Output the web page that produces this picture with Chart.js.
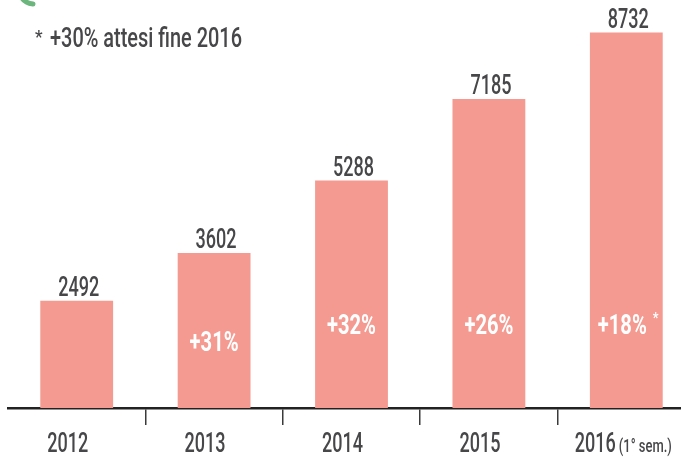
<!DOCTYPE html>
<html>
<head>
<meta charset="utf-8">
<script src="https://cdn.jsdelivr.net/npm/chart.js@4.4.1/dist/chart.umd.min.js"></script>
<style>
  html, body { margin: 0; padding: 0; background: #ffffff; overflow: hidden; }
  #wrap { position: relative; width: 681px; height: 457px; overflow: hidden; }
  canvas { display: block; }
</style>
</head>
<body>
<div id="wrap"><canvas id="chart" width="700" height="457"></canvas></div>
<script>
// Yearly totals (2016 covers the first half only)
const years = ['2012', '2013', '2014', '2015', '2016'];
const yearNotes = ['', '', '', '', '(1° sem.)'];
const totals = [2492, 3602, 5288, 7185, 8732];
const growth = ['', '+31%', '+32%', '+26%', '+18%'];
const growthMarks = ['', '', '', '', '*'];
const footnoteMark = '*';
const footnote = '+30% attesi fine 2016';

const FONT = 'Roboto, "DejaVu Sans", sans-serif';
const TEXT_COLOR = '#47474a';
const BAR_COLOR = '#f49a90';

// value on the y scale where each growth label's baseline sits
const growthAnchor = [0, 1330, 1720, 1720, 1720];

function fontStr(size, weight) { return weight + ' ' + size + 'px ' + FONT; }

function measure(ctx, text, size, weight) {
  ctx.save();
  ctx.font = fontStr(size, weight);
  const w = ctx.measureText(text).width;
  ctx.restore();
  return w;
}

// draws text squeezed horizontally by sx, for a tall condensed face
function narrowText(ctx, text, x, y, size, weight, color, align, sx) {
  const w = measure(ctx, text, size, weight) * sx;
  let x0 = x;
  if (align === 'center') x0 = x - w / 2;
  else if (align === 'right') x0 = x - w;
  ctx.save();
  ctx.font = fontStr(size, weight);
  ctx.fillStyle = color;
  ctx.textAlign = 'left';
  ctx.textBaseline = 'alphabetic';
  ctx.translate(x0, y);
  ctx.scale(sx, 1);
  ctx.fillText(text, 0, 0);
  ctx.restore();
  return w;
}

const labelsPlugin = {
  id: 'labels',
  afterDatasetsDraw(chart) {
    const ctx = chart.ctx;
    const ys = chart.scales.y;
    const meta = chart.getDatasetMeta(0);

    const numSize = 28, numWeight = '500';
    const numSx = 41 / measure(ctx, '2492', numSize, numWeight);
    const pctSize = 27, pctWeight = '700';
    const pctSx = 49 / measure(ctx, '+26%', pctSize, pctWeight);
    const noteSize = 19;
    const noteSx = 53 / measure(ctx, '(1° sem.)', noteSize, '500');

    meta.data.forEach((bar, i) => {
      const cx = bar.x;
      // value above the bar
      narrowText(ctx, String(totals[i]), cx + 2, bar.y - 5, numSize, numWeight, TEXT_COLOR, 'center', numSx);
      // growth inside the bar
      if (growth[i]) {
        const gy = ys.getPixelForValue(growthAnchor[i]);
        const shift = growthMarks[i] ? -4 : 0;
        const w = narrowText(ctx, growth[i], cx + shift, gy, pctSize, pctWeight, '#ffffff', 'center', pctSx);
        if (growthMarks[i]) {
          narrowText(ctx, growthMarks[i], cx + shift + w / 2 + 6, gy - 11, 14, '700', '#ffffff', 'left', 0.9);
        }
      }
      // category label below the axis, set a little left of the bar
      const ly = 452;
      if (yearNotes[i]) {
        const wy = measure(ctx, years[i], numSize, numWeight) * numSx;
        const wn = measure(ctx, yearNotes[i], noteSize, '500') * noteSx;
        const gap = 3;
        const x0 = cx - 3 - (wy + gap + wn) / 2;
        narrowText(ctx, years[i], x0, ly, numSize, numWeight, TEXT_COLOR, 'left', numSx);
        narrowText(ctx, yearNotes[i], x0 + wy + gap, ly, noteSize, '500', TEXT_COLOR, 'left', noteSx);
      } else {
        narrowText(ctx, years[i], cx - 9, ly, numSize, numWeight, TEXT_COLOR, 'center', numSx);
      }
    });

    // footnote in the top-left corner
    narrowText(ctx, footnoteMark, 35, 43, 19, '500', TEXT_COLOR, 'left', 0.9);
    const fSize = 27;
    const fSx = 192 / measure(ctx, footnote, fSize, '500');
    narrowText(ctx, footnote, 50, 47, fSize, '500', TEXT_COLOR, 'left', fSx);

    // green swash at the top-left edge
    ctx.save();
    ctx.strokeStyle = '#6cb57c';
    ctx.lineWidth = 5;
    ctx.lineCap = 'round';
    ctx.beginPath();
    ctx.moveTo(22, -2);
    ctx.quadraticCurveTo(25, 3, 33, 4);
    ctx.stroke();
    ctx.restore();
  }
};

new Chart(document.getElementById('chart'), {
  type: 'bar',
  data: {
    labels: years,
    datasets: [{
      data: totals,
      backgroundColor: BAR_COLOR,
      borderWidth: 0,
      categoryPercentage: 1,
      barPercentage: 0.53
    }]
  },
  options: {
    responsive: false,
    animation: false,
    devicePixelRatio: 1,
    layout: { padding: { left: 8, right: 5, top: 21, bottom: 32 } },
    plugins: { legend: { display: false }, tooltip: { enabled: false } },
    scales: {
      x: {
        offset: true,
        grid: {
          offset: true,
          drawOnChartArea: false,
          drawTicks: true,
          tickLength: 17,
          lineWidth: 1.5,
          color: (c) => (c.index === 0 ? 'rgba(0,0,0,0)' : '#3a3a3a')
        },
        border: { display: true, color: '#222222', width: 2.5 },
        ticks: { display: false }
      },
      y: {
        display: false,
        min: 0,
        max: 9000
      }
    }
  },
  plugins: [labelsPlugin]
});
</script>
</body>
</html>
